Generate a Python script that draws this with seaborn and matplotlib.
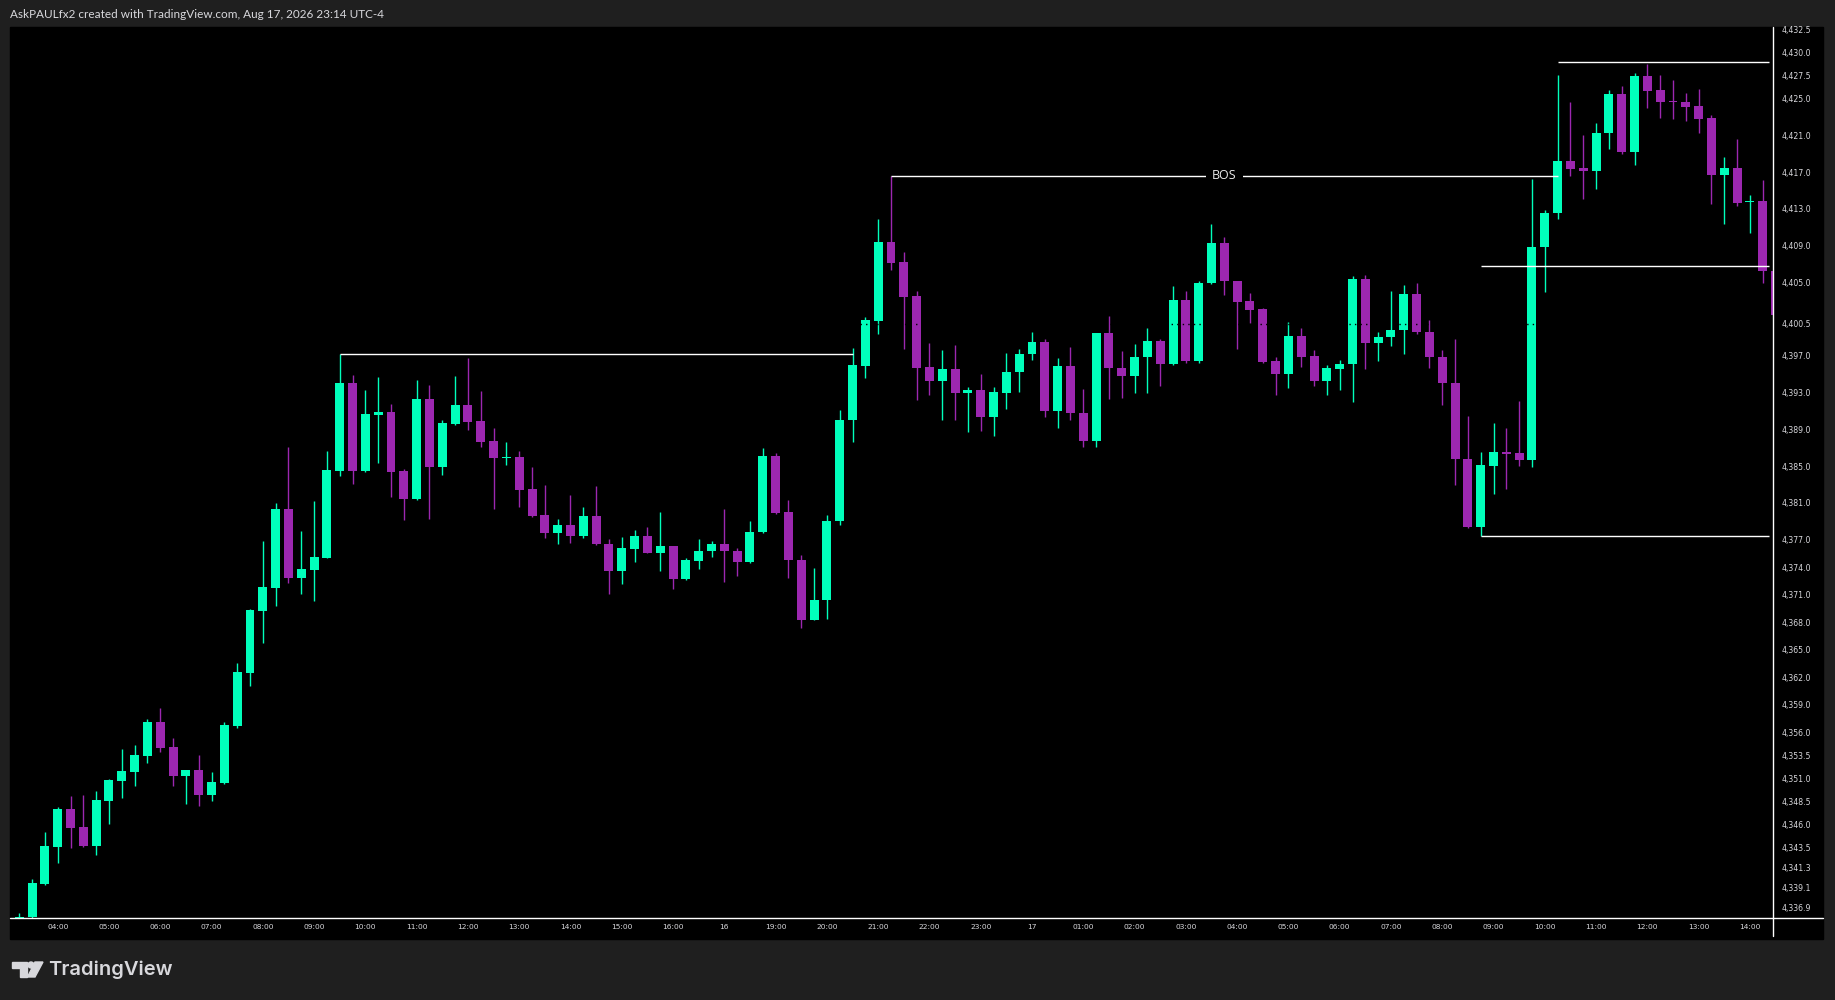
import numpy as np
import pandas as pd
import seaborn as sns
import matplotlib.pyplot as plt
from matplotlib.patches import Rectangle, Polygon, Circle

# 15 minute candles
opens = [4335.6, 4335.9, 4339.5, 4343.5, 4347.7, 4345.7, 4343.6, 4348.5, 4350.7, 4351.7,
         4353.4, 4357.1, 4354.4, 4351.3, 4351.9, 4349.2, 4350.5, 4356.7, 4362.5, 4369.2,
         4371.7, 4380.3, 4372.8, 4373.7, 4375.0, 4384.5, 4394.0, 4384.5, 4390.6, 4390.9,
         4384.5, 4381.4, 4392.3, 4384.9, 4389.6, 4391.6, 4389.9, 4387.7, 4385.9, 4386.0,
         4382.5, 4379.7, 4377.7, 4378.6, 4377.4, 4379.6, 4376.5, 4373.6, 4376.0, 4377.4,
         4375.5, 4376.3, 4372.7, 4374.7, 4375.8, 4376.5, 4375.8, 4374.6, 4377.8, 4386.1,
         4380.0, 4374.8, 4368.2, 4370.4, 4379.0, 4390.0, 4395.9, 4400.8, 4409.4, 4407.2,
         4403.5, 4395.8, 4394.3, 4395.6, 4393.0, 4393.3, 4390.3, 4393.0, 4395.2, 4397.2,
         4398.5, 4391.0, 4395.9, 4390.8, 4387.7, 4399.5, 4395.7, 4394.8, 4396.9, 4398.6,
         4396.1, 4403.1, 4396.4, 4404.9, 4409.3, 4405.2, 4403.0, 4402.1, 4396.4, 4395.0,
         4399.2, 4397.0, 4394.3, 4395.6, 4396.1, 4405.4, 4398.4, 4399.0, 4399.8, 4403.7,
         4399.6, 4396.9, 4394.0, 4385.8, 4378.4, 4385.0, 4386.5, 4386.4, 4385.7, 4408.8,
         4412.5, 4418.2, 4417.4, 4417.1, 4421.3, 4425.5, 4419.2, 4427.5, 4425.9, 4424.7,
         4424.6, 4424.2, 4422.9, 4416.7, 4417.4, 4413.7, 4413.9, 4406.2]
highs = [4336.3, 4340.0, 4345.2, 4347.9, 4349.1, 4349.2, 4349.6, 4350.9, 4354.2, 4354.6,
         4357.5, 4358.7, 4355.4, 4351.9, 4353.5, 4351.7, 4357.1, 4363.6, 4369.4, 4376.8,
         4381.0, 4387.1, 4377.9, 4381.2, 4386.6, 4397.2, 4394.9, 4393.3, 4394.7, 4391.8,
         4384.7, 4394.4, 4393.8, 4390.0, 4394.8, 4396.8, 4393.2, 4389.1, 4387.6, 4386.6,
         4384.9, 4382.9, 4379.2, 4381.8, 4380.5, 4382.8, 4377.1, 4377.3, 4378.0, 4378.4,
         4380.0, 4376.3, 4375.0, 4377.1, 4376.8, 4380.3, 4376.1, 4379.0, 4387.0, 4386.4,
         4381.3, 4375.3, 4373.9, 4379.7, 4391.1, 4397.85, 4401.2, 4411.9, 4416.6, 4408.3,
         4404.1, 4398.4, 4397.6, 4398.2, 4393.6, 4395.0, 4393.6, 4397.3, 4397.7, 4399.6,
         4398.8, 4396.8, 4398.0, 4393.4, 4399.5, 4401.3, 4397.5, 4398.3, 4400.0, 4398.8,
         4404.6, 4404.1, 4405.2, 4411.3, 4409.9, 4405.2, 4403.8, 4402.2, 4396.9, 4400.7,
         4400.0, 4397.6, 4396.0, 4396.5, 4405.7, 4405.8, 4399.6, 4404.1, 4404.7, 4404.9,
         4400.9, 4397.6, 4398.8, 4390.4, 4386.5, 4389.7, 4389.1, 4392.1, 4416.2, 4412.9,
         4427.6, 4424.6, 4421.0, 4422.3, 4425.9, 4426.4, 4427.8, 4428.8, 4427.6, 4427.0,
         4425.6, 4426.0, 4423.2, 4418.7, 4420.6, 4414.5, 4416.1, 4406.3]
lows = [4335.3, 4335.6, 4339.4, 4341.8, 4343.4, 4343.5, 4342.7, 4346.0, 4348.9, 4350.2,
        4352.7, 4353.9, 4350.2, 4348.2, 4348.0, 4348.5, 4350.4, 4356.5, 4361.1, 4365.7,
        4369.8, 4372.3, 4371.1, 4370.3, 4375.0, 4383.9, 4383.0, 4384.4, 4385.3, 4381.6,
        4379.1, 4381.3, 4379.2, 4384.0, 4389.5, 4388.9, 4387.1, 4380.3, 4385.1, 4380.5,
        4379.5, 4377.2, 4376.5, 4376.6, 4377.2, 4376.4, 4371.1, 4372.2, 4374.6, 4375.5,
        4373.6, 4371.6, 4372.6, 4373.8, 4375.1, 4372.4, 4373.0, 4374.5, 4377.7, 4379.8,
        4372.8, 4367.4, 4368.2, 4368.3, 4378.6, 4387.6, 4394.6, 4399.4, 4406.3, 4397.7,
        4392.2, 4392.7, 4390.0, 4390.0, 4388.7, 4388.8, 4388.3, 4391.2, 4393.1, 4396.5,
        4390.3, 4389.1, 4390.0, 4387.1, 4387.1, 4392.3, 4392.4, 4393.0, 4393.0, 4393.7,
        4396.0, 4396.2, 4396.2, 4404.8, 4403.6, 4397.7, 4400.6, 4396.2, 4392.7, 4393.5,
        4395.8, 4393.7, 4392.7, 4393.3, 4392.0, 4395.6, 4396.4, 4398.1, 4397.2, 4399.4,
        4395.7, 4391.7, 4382.9, 4378.3, 4377.4, 4382.0, 4382.5, 4385.0, 4384.9, 4403.9,
        4411.9, 4416.6, 4414.1, 4415.2, 4419.5, 4419.0, 4417.8, 4424.0, 4422.9, 4422.8,
        4422.6, 4421.3, 4413.5, 4411.4, 4413.3, 4410.4, 4404.9, 4401.4]
closes = [4335.9, 4339.6, 4343.6, 4347.7, 4345.6, 4343.6, 4348.6, 4350.8, 4351.8, 4353.5,
          4357.1, 4354.3, 4351.3, 4351.9, 4349.2, 4350.6, 4356.8, 4362.6, 4369.3, 4371.8,
          4380.3, 4372.8, 4373.8, 4375.1, 4384.6, 4394.0, 4384.5, 4390.7, 4390.9, 4384.4,
          4381.4, 4392.3, 4384.9, 4389.7, 4391.6, 4389.8, 4387.6, 4385.9, 4386.0, 4382.4,
          4379.6, 4377.7, 4378.6, 4377.4, 4379.6, 4376.5, 4373.6, 4376.1, 4377.4, 4375.5,
          4376.3, 4372.7, 4374.8, 4375.8, 4376.5, 4375.8, 4374.6, 4377.8, 4386.1, 4379.9,
          4374.8, 4368.2, 4370.4, 4379.0, 4390.0, 4396.0, 4400.9, 4409.4, 4407.1, 4403.4,
          4395.7, 4394.3, 4395.6, 4393.0, 4393.3, 4390.3, 4393.1, 4395.2, 4397.2, 4398.5,
          4391.0, 4395.9, 4390.8, 4387.7, 4399.5, 4395.7, 4394.8, 4396.9, 4398.6, 4396.1,
          4403.1, 4396.4, 4404.9, 4409.3, 4405.1, 4402.9, 4402.0, 4396.3, 4395.0, 4399.2,
          4396.9, 4394.3, 4395.7, 4396.1, 4405.4, 4398.4, 4399.0, 4399.8, 4403.7, 4399.6,
          4396.9, 4394.0, 4385.8, 4378.4, 4385.1, 4386.5, 4386.3, 4385.7, 4408.8, 4412.5,
          4418.2, 4417.3, 4417.1, 4421.3, 4425.5, 4419.2, 4427.5, 4425.8, 4424.6, 4424.6,
          4424.1, 4422.8, 4416.7, 4417.4, 4413.6, 4413.9, 4406.2, 4401.5]

time_labels = ['04:00', '05:00', '06:00', '07:00', '08:00', '09:00', '10:00', '11:00',
               '12:00', '13:00', '14:00', '15:00', '16:00', '16', '19:00', '20:00',
               '21:00', '22:00', '23:00', '17', '01:00', '02:00', '03:00', '04:00',
               '05:00', '06:00', '07:00', '08:00', '09:00', '10:00', '11:00', '12:00',
               '13:00', '14:00']

price_ticks = [4432.5, 4430.0, 4427.5, 4425.0, 4421.0, 4417.0, 4413.0, 4409.0, 4405.0,
               4400.5, 4397.0, 4393.0, 4389.0, 4385.0, 4381.0, 4377.0, 4374.0, 4371.0,
               4368.0, 4365.0, 4362.0, 4359.0, 4356.0, 4353.5, 4351.0, 4348.5, 4346.0,
               4343.5, 4341.3, 4339.1, 4336.9]

# drawn levels: price, first candle, last candle
level_prices = [4397.16, 4416.58, 4428.95, 4406.74, 4377.39]
level_from = [25, 68, 120, 114, 114]
level_to = [65, 120, 136.5, 136.5, 136.5]

GREEN = '#00FFBB'
PURPLE = '#9C27B0'
TXT = '#d8d8dc'

sns.set_style('dark', {'axes.facecolor': 'black', 'figure.facecolor': '#1f1f1f'})
plt.rcParams['font.family'] = ['DejaVu Sans']

W, H = 1835, 1000
fig = plt.figure(figsize=(W / 100, H / 100), dpi=100)
fig.patch.set_facecolor('#1f1f1f')


def box(x0, y0, x1, y1):
    # pixel box (from top left) -> figure fractions
    return [x0 / W, 1 - y1 / H, (x1 - x0) / W, (y1 - y0) / H]


bg = fig.add_axes(box(0, 0, W, H), zorder=-1)
bg.set_xlim(0, W)
bg.set_ylim(H, 0)
bg.axis('off')
bg.add_patch(Rectangle((10, 27), 1813, 912, color='black'))

ax = fig.add_axes(box(10, 27, 1773, 918))
df = pd.DataFrame({'open': opens, 'high': highs, 'low': lows, 'close': closes})
df['x'] = np.arange(len(df))
col = np.where(df['close'] >= df['open'], GREEN, PURPLE)

ax.vlines(df['x'], df['low'], df['high'], colors=col, lw=1.0, zorder=2)
body = np.maximum((df['close'] - df['open']).abs(), 0.12)
ax.bar(df['x'], body, bottom=np.minimum(df['open'], df['close']), width=0.7,
       color=col, linewidth=0, zorder=3)

# hidden dotted price line, only shows on top of bodies
ax.axhline(4400.45, color='black', lw=1, dashes=(1, 3), zorder=4)

ax.hlines(level_prices, level_from, level_to, color='white', lw=1, zorder=5)
ax.text(94, level_prices[1], 'BOS', color='#ececec', fontsize=9, ha='center',
        va='center', zorder=6, family=['Open Sans', 'DejaVu Sans'],
        bbox=dict(boxstyle='square,pad=0.5', facecolor='black', edgecolor='none'))

ax.set_xlim(-0.72, 136.8)
ax.set_ylim(4335.8, 4432.8)
ax.yaxis.tick_right()
ax.set_yticks(price_ticks)
ax.set_yticklabels([f'{v:,.1f}' for v in price_ticks])
ax.set_xticks([3 + 4 * k for k in range(len(time_labels))])
ax.set_xticklabels(time_labels)
ax.tick_params(axis='y', length=0, pad=6, labelsize=5.6, labelcolor=TXT)
ax.tick_params(axis='x', length=0, pad=4, labelsize=5.4, labelcolor=TXT)
ax.grid(False)
for s in ax.spines.values():
    s.set_visible(False)

ov = fig.add_axes(box(0, 0, W, H), zorder=5)
ov.patch.set_alpha(0)
ov.set_xlim(0, W)
ov.set_ylim(H, 0)
ov.axis('off')
ov.plot([10, 1823], [918, 918], color='white', lw=1)
ov.plot([1773, 1773], [27, 936], color='white', lw=1)

# TradingView mark
ov.add_patch(Polygon([(11.5, 962), (27, 962), (27, 977), (19.5, 977), (19.5, 968), (11.5, 968)],
                     closed=True, color=TXT))
ov.add_patch(Circle((31, 965), 3, color=TXT))
ov.add_patch(Polygon([(35, 962), (43, 962), (35, 977), (27.5, 977)], closed=True, color=TXT))
ov.text(48, 970, 'TradingView', fontsize=14.5, color=TXT, va='center', ha='left',
        family=['Inter', 'DejaVu Sans'], fontweight='semibold')

fig.text(10 / W, 1 - 15 / H, 'AskPAULfx2 created with TradingView.com, Aug 17, 2026 23:14 UTC-4',
         fontsize=8.5, color=TXT, va='center', ha='left', family=['Lato', 'DejaVu Sans'])

fig.savefig('out.png', dpi=100, facecolor=fig.get_facecolor())
